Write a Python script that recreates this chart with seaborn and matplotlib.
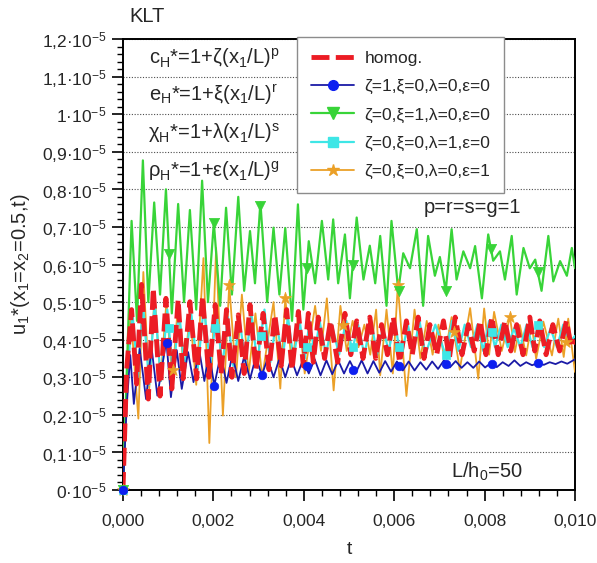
import numpy as np
import seaborn as sns
import matplotlib.pyplot as plt
from matplotlib.lines import Line2D
from matplotlib.ticker import MultipleLocator, FuncFormatter

# time in units of 1e-3, displacement in units of 1e-5
red_t = [0, 0.08, 0.19, 0.30, 0.41, 0.56, 0.67, 0.82, 0.95, 1.08, 1.22, 1.33, 1.48, 1.63, 1.76, 1.90,
         2.04, 2.17, 2.29, 2.41, 2.55, 2.68, 2.81, 2.94, 3.10, 3.23, 3.36, 3.50, 3.62, 3.74, 3.88, 3.99,
         4.10, 4.21, 4.32, 4.46, 4.59, 4.75, 4.91, 5.04, 5.17, 5.31, 5.46, 5.59, 5.72, 5.85, 5.98, 6.12,
         6.27, 6.40, 6.53, 6.66, 6.79, 6.94, 7.09, 7.22, 7.35, 7.50, 7.64, 7.77, 7.90, 8.03, 8.16, 8.30,
         8.45, 8.58, 8.71, 8.85, 9.00, 9.11, 9.22, 9.36, 9.51, 9.66, 9.81, 9.92, 10.0]
red_u = [0, 0.32, 0.48, 0.282, 0.547, 0.242, 0.537, 0.25, 0.51, 0.269, 0.507, 0.296, 0.501, 0.296, 0.515, 0.30,
         0.493, 0.31, 0.48, 0.30, 0.466, 0.31, 0.493, 0.32, 0.47, 0.32, 0.466, 0.33, 0.48, 0.32, 0.475, 0.33,
         0.47, 0.34, 0.46, 0.35, 0.45, 0.34, 0.47, 0.36, 0.45, 0.35, 0.46, 0.35, 0.44, 0.36, 0.46, 0.34,
         0.45, 0.36, 0.46, 0.35, 0.44, 0.36, 0.45, 0.35, 0.46, 0.36, 0.44, 0.37, 0.45, 0.36, 0.46, 0.36,
         0.45, 0.37, 0.44, 0.36, 0.46, 0.37, 0.45, 0.36, 0.44, 0.37, 0.45, 0.38, 0.40]

blue_t = [0, 0.08, 0.16, 0.24, 0.37, 0.51, 0.63, 0.76, 0.96, 1.06, 1.19, 1.30, 1.44, 1.56, 1.68, 1.80,
          1.90, 2.02, 2.16, 2.29, 2.42, 2.55, 2.68, 2.81, 2.94, 3.07, 3.20, 3.33, 3.46, 3.59, 3.72, 3.85,
          3.98, 4.11, 4.24, 4.37, 4.50, 4.63, 4.76, 4.89, 5.02, 5.15, 5.28, 5.41, 5.54, 5.67, 5.80, 5.93,
          6.06, 6.19, 6.32, 6.45, 6.58, 6.71, 6.84, 6.97, 7.10, 7.23, 7.36, 7.49, 7.62, 7.75, 7.88, 8.01,
          8.14, 8.27, 8.40, 8.53, 8.66, 8.79, 8.92, 9.05, 9.18, 9.31, 9.44, 9.57, 9.70, 9.83, 9.96, 10.0]
blue_u = [0, 0.22, 0.359, 0.229, 0.376, 0.242, 0.38, 0.251, 0.398, 0.247, 0.372, 0.269, 0.367, 0.287, 0.376, 0.29,
          0.367, 0.278, 0.36, 0.285, 0.36, 0.29, 0.355, 0.295, 0.355, 0.305, 0.35, 0.30, 0.35, 0.30, 0.35, 0.305,
          0.345, 0.31, 0.348, 0.305, 0.345, 0.308, 0.345, 0.31, 0.343, 0.312, 0.345, 0.31, 0.343, 0.312, 0.343, 0.315,
          0.342, 0.318, 0.342, 0.318, 0.34, 0.32, 0.342, 0.322, 0.345, 0.326, 0.343, 0.325, 0.34, 0.325, 0.342, 0.326,
          0.338, 0.327, 0.34, 0.33, 0.345, 0.33, 0.34, 0.332, 0.338, 0.333, 0.34, 0.335, 0.342, 0.336, 0.345, 0.348]

green_t = [0, 0.12, 0.19, 0.31, 0.44, 0.56, 0.69, 0.82, 0.95, 1.08, 1.22, 1.35, 1.48, 1.62, 1.75, 1.88,
           2.01, 2.15, 2.28, 2.41, 2.55, 2.68, 2.81, 2.92, 3.04, 3.19, 3.33, 3.46, 3.59, 3.74, 3.87, 3.99,
           4.11, 4.25, 4.40, 4.54, 4.65, 4.76, 4.91, 5.02, 5.17, 5.32, 5.46, 5.58, 5.69, 5.83, 5.94, 6.09,
           6.20, 6.35, 6.50, 6.64, 6.75, 6.90, 7.01, 7.14, 7.27, 7.38, 7.53, 7.68, 7.79, 7.94, 8.08, 8.19,
           8.34, 8.45, 8.60, 8.71, 8.86, 9.00, 9.12, 9.26, 9.41, 9.52, 9.67, 9.82, 9.93, 10.0]
green_u = [0, 0.45, 0.716, 0.45, 0.877, 0.50, 0.765, 0.52, 0.80, 0.47, 0.761, 0.50, 0.745, 0.48, 0.823, 0.50,
           0.711, 0.49, 0.751, 0.52, 0.78, 0.53, 0.689, 0.55, 0.765, 0.50, 0.698, 0.52, 0.697, 0.45, 0.76, 0.48,
           0.662, 0.55, 0.716, 0.56, 0.72, 0.55, 0.68, 0.51, 0.725, 0.56, 0.65, 0.55, 0.676, 0.49, 0.716, 0.53,
           0.63, 0.59, 0.694, 0.49, 0.676, 0.57, 0.62, 0.53, 0.694, 0.56, 0.635, 0.59, 0.649, 0.51, 0.68, 0.61,
           0.635, 0.56, 0.676, 0.52, 0.644, 0.59, 0.613, 0.53, 0.676, 0.555, 0.609, 0.57, 0.644, 0.59]

cyan_t = [0, 0.09, 0.21, 0.33, 0.44, 0.58, 0.70, 0.84, 0.98, 1.11, 1.24, 1.36, 1.51, 1.65, 1.79, 1.93,
          2.07, 2.20, 2.32, 2.44, 2.58, 2.71, 2.84, 2.97, 3.13, 3.26, 3.39, 3.53, 3.65, 3.77, 3.91, 4.02,
          4.13, 4.24, 4.35, 4.49, 4.62, 4.78, 4.94, 5.07, 5.20, 5.34, 5.49, 5.62, 5.75, 5.88, 6.01, 6.15,
          6.30, 6.43, 6.56, 6.69, 6.91, 7.14, 7.28, 7.42, 7.56, 7.70, 7.84, 7.97, 8.10, 8.23, 8.37, 8.51,
          8.65, 8.79, 8.93, 9.06, 9.19, 9.32, 9.46, 9.60, 9.74, 9.87, 10.0]
cyan_u = [0, 0.30, 0.47, 0.30, 0.50, 0.28, 0.50, 0.29, 0.48, 0.30, 0.48, 0.32, 0.47, 0.32, 0.49, 0.33,
          0.47, 0.33, 0.46, 0.33, 0.45, 0.34, 0.47, 0.34, 0.48, 0.34, 0.45, 0.35, 0.46, 0.35, 0.45, 0.35,
          0.45, 0.36, 0.45, 0.36, 0.44, 0.36, 0.45, 0.37, 0.44, 0.36, 0.45, 0.36, 0.43, 0.37, 0.45, 0.35,
          0.44, 0.37, 0.45, 0.36, 0.44, 0.358, 0.45, 0.37, 0.44, 0.38, 0.44, 0.37, 0.45, 0.38, 0.44, 0.38,
          0.43, 0.38, 0.44, 0.38, 0.44, 0.38, 0.43, 0.38, 0.44, 0.39, 0.41]

orange_t = [0, 0.08, 0.17, 0.34, 0.45, 0.58, 0.70, 0.83, 0.96, 1.09, 1.22, 1.35, 1.48, 1.62, 1.78, 1.91,
            2.06, 2.21, 2.35, 2.50, 2.63, 2.78, 2.93, 3.08, 3.33, 3.48, 3.59, 3.74, 3.88, 4.02, 4.25, 4.38,
            4.51, 4.66, 4.81, 4.95, 5.08, 5.21, 5.34, 5.47, 5.60, 5.69, 5.83, 5.97, 6.08, 6.27, 6.45, 6.58,
            6.72, 6.85, 6.98, 7.11, 7.27, 7.45, 7.68, 7.86, 7.99, 8.10, 8.21, 8.38, 8.56, 8.67, 8.78, 8.92,
            9.04, 9.14, 9.30, 9.49, 9.63, 9.75, 9.85, 10.0]
orange_u = [0, 0.30, 0.47, 0.19, 0.58, 0.27, 0.52, 0.29, 0.50, 0.29, 0.50, 0.31, 0.47, 0.28, 0.617, 0.125,
            0.644, 0.198, 0.546, 0.30, 0.52, 0.31, 0.47, 0.30, 0.50, 0.27, 0.51, 0.33, 0.47, 0.31, 0.49, 0.37,
            0.51, 0.265, 0.49, 0.37, 0.45, 0.38, 0.44, 0.36, 0.48, 0.305, 0.48, 0.31, 0.546, 0.25, 0.48, 0.35,
            0.45, 0.36, 0.44, 0.35, 0.46, 0.32, 0.484, 0.296, 0.483, 0.36, 0.474, 0.37, 0.461, 0.367, 0.439, 0.358,
            0.443, 0.349, 0.448, 0.358, 0.456, 0.354, 0.456, 0.314]

# marker positions on each curve
blue_mt = [0, 0.97, 2.02, 3.07, 4.06, 5.09, 6.11, 7.14, 8.16, 9.19]
blue_mu = [0, 0.39, 0.278, 0.305, 0.33, 0.32, 0.33, 0.336, 0.335, 0.338]
green_mt = [0, 1.02, 2.02, 3.04, 4.06, 5.09, 6.11, 7.14, 8.15, 9.18]
green_mu = [0, 0.627, 0.711, 0.756, 0.59, 0.60, 0.53, 0.53, 0.64, 0.58]
cyan_mt = [0, 1.02, 2.03, 3.05, 4.06, 5.09, 6.11, 7.14, 8.16, 9.19]
cyan_mu = [0, 0.43, 0.43, 0.41, 0.38, 0.38, 0.38, 0.358, 0.42, 0.44]
orange_mt = [0, 1.11, 2.35, 3.59, 4.87, 6.08, 7.32, 8.56, 9.79]
orange_mu = [0, 0.32, 0.546, 0.51, 0.44, 0.546, 0.42, 0.461, 0.395]

labels = ["homog.", "ζ=1,ξ=0,λ=0,ε=0", "ζ=0,ξ=1,λ=0,ε=0", "ζ=0,ξ=0,λ=1,ε=0", "ζ=0,ξ=0,λ=0,ε=1"]
formulas = [r"c$_H$*=1+ζ(x$_1$/L)$^p$", r"e$_H$*=1+ξ(x$_1$/L)$^r$",
            r"χ$_H$*=1+λ(x$_1$/L)$^s$", r"ρ$_H$*=1+ε(x$_1$/L)$^g$"]
formula_levels = [1.15, 1.05, 0.95, 0.85]

RED, BLUE, BLUE_M, GREEN, CYAN, ORANGE = "#ec1c24", "#1a1aa6", "#0d1ff0", "#38d438", "#3ee6e6", "#eba027"

sns.set_theme(style="ticks")
plt.rcParams["font.family"] = ["Liberation Sans", "DejaVu Sans"]
plt.rcParams["mathtext.fontset"] = "custom"
plt.rcParams["mathtext.rm"] = "Liberation Sans"
plt.rcParams["mathtext.it"] = "Liberation Sans:italic"
plt.rcParams["mathtext.default"] = "regular"

fig = plt.figure(figsize=(5.97, 5.63), dpi=100)
ax = fig.add_axes([123 / 597, 73 / 563, 452 / 597, 451 / 563])


def arr(v, scale):
    return np.array(v) * scale


series = [
    (orange_t, orange_u, ORANGE, 1.3, 3),
    (cyan_t, cyan_u, CYAN, 1.6, 3.2),
    (green_t, green_u, GREEN, 1.6, 3.4),
    (blue_t, blue_u, BLUE, 1.3, 3.6),
]
for t, u, c, lw, z in series:
    sns.lineplot(x=arr(t, 1e-3), y=arr(u, 1e-5), color=c, linewidth=lw,
                 estimator=None, sort=False, ax=ax, zorder=z)

sns.lineplot(x=arr(red_t, 1e-3), y=arr(red_u, 1e-5), color=RED, linewidth=3.5,
             estimator=None, sort=False, ax=ax, zorder=4)
ax.lines[-1].set_dashes([3.7, 1.3])

# markers
marker_sets = [
    (orange_mt, orange_mu, ORANGE, "*", 80),
    (cyan_mt, cyan_mu, CYAN, "s", 30),
    (green_mt, green_mu, GREEN, "v", 55),
    (blue_mt, blue_mu, BLUE_M, "o", 38),
]
for mt, mu, c, m, s in marker_sets:
    sns.scatterplot(x=arr(mt, 1e-3), y=arr(mu, 1e-5), marker=m, s=s, color=c, edgecolor=c,
                    linewidth=0.5, ax=ax, zorder=5, clip_on=False)

ax.set_xlim(0, 0.010)
ax.set_ylim(0, 1.2e-5)
ax.xaxis.set_major_locator(MultipleLocator(0.002))
ax.xaxis.set_minor_locator(MultipleLocator(0.0004))
ax.yaxis.set_major_locator(MultipleLocator(0.1e-5))
ax.yaxis.set_minor_locator(MultipleLocator(0.02e-5))


def yfmt(v, pos):
    k = round(v / 1e-6) / 10
    s = str(int(round(k))) if abs(k - round(k)) < 1e-9 else f"{k:.1f}".replace(".", ",")
    return s + r"·10$^{-5}$"


ax.yaxis.set_major_formatter(FuncFormatter(yfmt))
ax.xaxis.set_major_formatter(FuncFormatter(lambda v, p: f"{v:.3f}".replace(".", ",")))

ax.tick_params(which="major", direction="out", length=8, width=1.2, labelsize=12.5, color="black")
ax.tick_params(which="minor", direction="out", length=4.5, width=1.0, color="black")
ax.tick_params(axis="x", which="major", pad=9)
ax.tick_params(axis="y", which="major", pad=4)
for sp in ax.spines.values():
    sp.set_color("black")
    sp.set_linewidth(1.4)

ax.grid(axis="y", which="major", linestyle=(0, (1, 1.5)), color="0.3", linewidth=0.8)
ax.set_axisbelow(True)

ax.set_xlabel("t", fontsize=14, labelpad=9)
ax.set_ylabel(r"u$_1$*(x$_1$=x$_2$=0.5,t)", fontsize=14.5, labelpad=7)

# annotations
ax.text(0.053, 1.049, "KLT", transform=ax.transAxes, ha="center", va="center", fontsize=14.5)
for f, lvl in zip(formulas, formula_levels):
    ax.text(0.201, lvl * 1e-5, f, transform=ax.get_yaxis_transform(), ha="center",
            va="center", fontsize=14.5, zorder=6)
ax.text(0.774, 0.627, "p=r=s=g=1", transform=ax.transAxes, ha="center", va="center", fontsize=14.5)
ax.text(0.805, 0.04, r"L/h$_0$=50", transform=ax.transAxes, ha="center", va="center", fontsize=14.5)

handles = [
    Line2D([], [], color=RED, lw=3.5, dashes=[3.7, 1.3]),
    Line2D([], [], color=BLUE, lw=1.3, marker="o", ms=7, mfc=BLUE_M, mec=BLUE_M),
    Line2D([], [], color=GREEN, lw=1.6, marker="v", ms=8, mfc=GREEN, mec=GREEN),
    Line2D([], [], color=CYAN, lw=1.6, marker="s", ms=6.5, mfc=CYAN, mec=CYAN),
    Line2D([], [], color=ORANGE, lw=1.3, marker="*", ms=9, mfc=ORANGE, mec=ORANGE),
]
leg = ax.legend(handles, labels, loc="upper left", bbox_to_anchor=(0.385, 1.005), frameon=True,
                fancybox=False, edgecolor="0.55", framealpha=1, fontsize=12.5, handlelength=2.5,
                handletextpad=0.6, labelspacing=0.76, borderpad=0.8, borderaxespad=0)
leg.get_frame().set_linewidth(1.0)
leg.set_zorder(10)

fig.savefig("out.png", dpi=100)
